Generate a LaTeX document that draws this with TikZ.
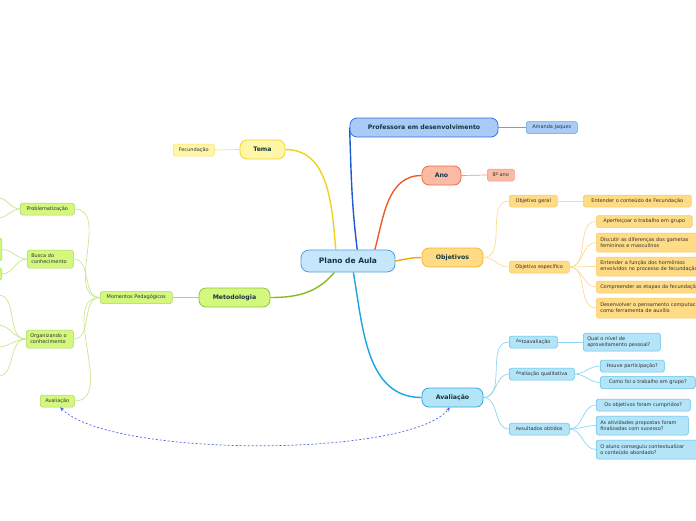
\documentclass[tikz,border=0pt]{standalone}
\usepackage{fontspec}
\setmainfont{DejaVu Sans}
\usetikzlibrary{arrows.meta,backgrounds}
\definecolor{maintext}{HTML}{173540}
\definecolor{subtext}{HTML}{333333}
\definecolor{rootfill}{HTML}{C6E7FB}
\definecolor{rootdraw}{HTML}{4A9FD8}
\definecolor{proffill}{HTML}{A8CBF8}
\definecolor{profdraw}{HTML}{3173E0}
\definecolor{profline}{HTML}{1A5CD0}
\definecolor{anofill}{HTML}{F9BBA5}
\definecolor{anodraw}{HTML}{F26B3F}
\definecolor{anoline}{HTML}{F05A28}
\definecolor{anosub}{HTML}{F5957A}
\definecolor{objfill}{HTML}{FEDB84}
\definecolor{objdraw}{HTML}{F5B52E}
\definecolor{objline}{HTML}{F5A800}
\definecolor{objsub}{HTML}{F7CA68}
\definecolor{objthin}{HTML}{FCDC94}
\definecolor{avfill}{HTML}{B3E4F8}
\definecolor{avdraw}{HTML}{29ABE2}
\definecolor{avline}{HTML}{1AA5E0}
\definecolor{avsub}{HTML}{5CC0EC}
\definecolor{avthin}{HTML}{8FD4F2}
\definecolor{temafill}{HTML}{FFF6A8}
\definecolor{temadraw}{HTML}{F0D42A}
\definecolor{temaline}{HTML}{EED21E}
\definecolor{temasub}{HTML}{F5E070}
\definecolor{metfill}{HTML}{D4F77E}
\definecolor{metdraw}{HTML}{8CC63F}
\definecolor{metline}{HTML}{88BB20}
\definecolor{metsub}{HTML}{A8D860}
\definecolor{metthin}{HTML}{C8E690}
\definecolor{dashblue}{HTML}{4A63F0}
\tikzset{
  x=1pt, y=1pt,
  mainnode/.style={draw, rounded corners=7pt, line width=0.8pt, text=maintext,
    font=\bfseries\fontsize{6.2}{7}\selectfont, minimum height=19pt, inner sep=0pt},
  subnode/.style={draw, rounded corners=1.8pt, line width=0.5pt, text=subtext,
    font=\fontsize{5}{6}\selectfont, minimum height=12pt, inner xsep=4pt, inner ysep=1pt, anchor=west},
  twoline/.style={subnode, align=left, text width=#1, minimum height=19pt},
  thick/.style={line width=1.4pt},
  thin/.style={line width=0.7pt},
}
\newcommand{\raisedtwo}[1]{\raisebox{0.9pt}{\fontsize{4.3}{5}\selectfont #1}}
\begin{document}
\begin{tikzpicture}
\useasboundingbox (0,0) rectangle (696,-520);
\clip (0,0) rectangle (696,-520);
% main nodes
\node[mainnode, fill=rootfill, draw=rootdraw, rounded corners=8pt, minimum width=94pt, minimum height=22pt,
  font=\bfseries\fontsize{7.5}{9}\selectfont] (plano) at (348,-261) {Plano de Aula};
\node[mainnode, fill=proffill, draw=profdraw, minimum width=148pt] (prof) at (424,-127.5) {Professora em desenvolvimento};
\node[mainnode, fill=anofill, draw=anodraw, minimum width=39pt] (ano) at (441.5,-175.5) {Ano};
\node[mainnode, fill=objfill, draw=objdraw, minimum width=61pt] (obj) at (452.5,-257.5) {Objetivos};
\node[mainnode, fill=avfill, draw=avdraw, minimum width=61pt] (aval) at (452.5,-397.5) {Avaliação};
\node[mainnode, fill=temafill, draw=temadraw, minimum width=45pt] (tema) at (262.5,-149.5) {Tema};
\node[mainnode, fill=metfill, draw=metdraw, minimum width=71pt] (met) at (234.5,-297.5) {Metodologia};

% sub nodes right
\node[subnode, fill=proffill, draw=profdraw!70, minimum width=51pt] (amanda) at (526,-127.5) {Amanda Jaques};
\node[subnode, fill=anofill, draw=anosub, minimum width=27pt] (oito) at (487,-175) {8º ano};
\node[subnode, fill=objfill, draw=objsub, minimum width=48pt] (ogeral) at (509,-201) {Objetivo geral};
\node[subnode, fill=objfill, draw=objsub, minimum width=108pt] (entender) at (583,-201) {Entender o conteúdo de Fecundação};
\node[subnode, fill=objfill, draw=objsub, minimum width=60pt] (oesp) at (509,-267) {Objetivo específico};
\node[subnode, fill=objfill, draw=objsub, minimum width=96pt] (a1) at (596,-221.5) {Aperfeiçoar o trabalho em grupo};
\node[twoline=130pt, fill=objfill, draw=objsub] (a2) at (596,-242.5) {Discutir as diferenças dos gametas\\femininos e masculinos};
\node[twoline=150pt, fill=objfill, draw=objsub] (a3) at (596,-266.5) {Entender a função dos hormônios\\envolvidos no processo de fecundação};
\node[subnode, fill=objfill, draw=objsub, align=left, text width=130pt] (a4) at (596,-287) {Compreender as etapas da fecundação};
\node[twoline=150pt, fill=objfill, draw=objsub, minimum height=20pt] (a5) at (596,-308) {Desenvolver o pensamento computacional\\como ferramenta de auxílio};

\node[subnode, fill=avfill, draw=avsub, minimum width=48pt] (auto) at (509,-342) {\raisedtwo{Au}toavaliação};
\node[twoline=69pt, fill=avfill, draw=avsub, minimum height=18pt] (qual) at (583,-342) {Qual o nível de\\aproveitamento pessoal?};
\node[subnode, fill=avfill, draw=avsub, minimum width=65pt] (qualit) at (509,-374) {\raisedtwo{Av}aliação qualitativa};
\node[subnode, fill=avfill, draw=avsub, minimum width=64pt] (houve) at (600,-366) {Houve participação?};
\node[subnode, fill=avfill, draw=avsub, minimum width=95pt] (como) at (600,-382.5) {Como foi o trabalho em grupo?};
\node[subnode, fill=avfill, draw=avsub, minimum width=60pt] (result) at (509,-429) {\raisedtwo{Re}sultados obtidos};
\node[subnode, fill=avfill, draw=avsub, minimum width=94pt] (os) at (596,-405) {Os objetivos foram cumpridos?};
\node[twoline=84pt, fill=avfill, draw=avsub] (as) at (596,-425.5) {As atividades propostas foram\\finalizadas com sucesso?};
\node[twoline=96pt, fill=avfill, draw=avsub] (aluno) at (596,-449.5) {O aluno conseguiu contextualizar\\o conteúdo abordado?};

% sub nodes left
\node[subnode, fill=temafill, draw=temasub, minimum width=41pt] (fecund) at (173,-150) {Fecundação};
\node[subnode, fill=metfill, draw=metsub, minimum width=72pt] (momentos) at (100,-297.5) {Momentos Pedagógicos};
\node[subnode, fill=metfill, draw=metsub, minimum width=54pt] (probl) at (20,-209) {Problematização};
\node[twoline=38pt, fill=metfill, draw=metsub, minimum height=18pt] (busca) at (27,-259) {Busca do\\conhecimento};
\node[twoline=39pt, fill=metfill, draw=metsub, minimum height=18pt] (organiz) at (26,-339) {Organizando o\\conhecimento};
\node[subnode, fill=metfill, draw=metsub, minimum width=34pt] (avall) at (40,-401) {Avaliação};
% off-canvas fragments
\node[subnode, anchor=east, fill=metfill, draw=metsub, minimum width=30pt, minimum height=23pt] (bfrag1) at (2,-249.5) {};
\node[subnode, anchor=east, fill=metfill, draw=metsub, minimum width=30pt, minimum height=12pt] (bfrag2) at (2,-274) {};
\coordinate (pc1) at (-2,-198);
\coordinate (pc2) at (-2,-218);
\coordinate (oc1) at (-2,-295);
\coordinate (oc2) at (-2,-325);
\coordinate (oc3) at (-2,-347);
\coordinate (oc4) at (-2,-376);

\begin{scope}[on background layer]
% main connectors
\draw[thick, temaline] (plano.137) to[out=95,in=0] (tema.east);
\draw[thick, profline] (plano.51) to[out=97,in=-88] (prof.west);
\draw[thick, anoline] (plano.23) to[out=75,in=180] (ano.west);
\draw[thick, objline] (plano.east) to[out=10,in=180] (obj.west);
\draw[thick, avline] (plano.-65) to[out=-80,in=180] (aval.west);
\draw[thick, metline] (plano.-140) to[out=-130,in=0] (met.east);

% sub connectors
\draw[thin, profdraw!70] (prof.east) -- (amanda.west);
\draw[thin, anosub] (ano.east) -- (oito.west);
\draw[thin, temasub] (tema.west) -- (fecund.east);
\draw[thin, metsub] (met.west) -- (momentos.east);
\begin{scope}[thin, objthin]
\draw (obj.east) to[out=0,in=180] (ogeral.west);
\draw (obj.east) to[out=0,in=180] (oesp.west);
\draw (ogeral.east) -- (entender.west);
\foreach \c in {a1,a2,a3,a4,a5} \draw (oesp.east) to[out=0,in=180] (\c.west);
\end{scope}
\begin{scope}[thin, avthin]
\draw (aval.east) to[out=0,in=180] (auto.west);
\draw (aval.east) to[out=0,in=180] (qualit.west);
\draw (aval.east) to[out=0,in=180] (result.west);
\draw (auto.east) -- (qual.west);
\foreach \c in {houve,como} \draw (qualit.east) to[out=0,in=180] (\c.west);
\foreach \c in {os,as,aluno} \draw (result.east) to[out=0,in=180] (\c.west);
\end{scope}
\begin{scope}[thin, metthin]
\foreach \c in {probl,busca,organiz,avall} \draw (momentos.west) to[out=180,in=0] (\c.east);
\draw (probl.west) to[out=180,in=0] (pc1);
\draw (probl.west) to[out=180,in=0] (pc2);
\draw (busca.west) to[out=180,in=0] (bfrag1.east);
\draw (busca.west) to[out=180,in=0] (bfrag2.east);
\foreach \c in {oc1,oc2,oc3,oc4} \draw (organiz.west) to[out=180,in=0] (\c);
\end{scope}
\end{scope}

% dashed relation
\draw[dashblue, line width=0.7pt, dash pattern=on 2pt off 2pt, {Stealth[length=4pt,width=3.5pt]}-{Stealth[length=4pt,width=3.5pt]}]
  (avall.-65) .. controls (110,-458) and (410,-458) .. (aval.-105);
\end{tikzpicture}
\end{document}
